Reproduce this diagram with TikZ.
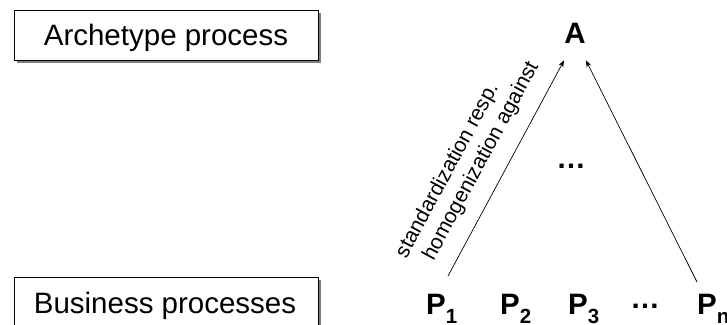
\documentclass[tikz,border=0pt]{standalone}
\usepackage{fontspec}
\setmainfont{Liberation Sans}
\usetikzlibrary{arrows.meta,calc}
\newcommand\Psub[1]{P\raisebox{-9pt}{\fontsize{20.5}{20.5}\selectfont #1}}
\begin{document}
\begin{tikzpicture}[x=1pt,y=-1pt,
  lbl/.style={font=\fontsize{29.5}{32}\selectfont, inner sep=0pt},
  big/.style={font=\fontsize{29.5}{32}\selectfont\bfseries, inner sep=0pt},
  arr/.style={-{Stealth[length=7pt,width=5pt]}, line width=0.7pt},
  shad/.style={fill=black!50},
  boxx/.style={draw=black, fill=white, line width=0.8pt},
  rot/.style={font=\fontsize{21}{25}\selectfont, inner sep=0pt, align=left}]
\useasboundingbox (0,0) rectangle (727,324);
% boxes
\fill[shad] (17,13) rectangle (321,63);
\draw[boxx] (14,10) rectangle (318,60);
\node[lbl, anchor=base] (arch) at (166,45) {Archetype process};
\fill[shad] (17,280) rectangle (321,340);
\draw[boxx] (14,277) rectangle (318,340);
\node[lbl, anchor=base] (bp) at (165,313) {Business processes};
% archetype
\node[big, anchor=base, inner xsep=0pt, inner ysep=17pt] (a) at (575,43) {A};
% processes
\node[big, anchor=base west] (p1) at (426,314) {\Psub{1}};
\node[big, anchor=base west] (p2) at (500,314) {\Psub{2}};
\node[big, anchor=base west] (p3) at (568,314) {\Psub{3}};
\node[big, anchor=base] (pd) at (645,308) {…};
\node[big, anchor=base west] (pn) at (697,314) {\Psub{n}};
\node[big, anchor=base] (dm) at (571,168) {…};
% arrow ends
\coordinate (s1) at (448,276);
\coordinate (sn) at (697,282);
\draw[arr] (s1) -- node[rot, sloped, above=15pt, pos=0.455] {standardization resp.\\\hspace*{11pt}homogenization against} (a.south west);
\draw[arr] (sn) -- (a.south east);
\end{tikzpicture}
\end{document}
